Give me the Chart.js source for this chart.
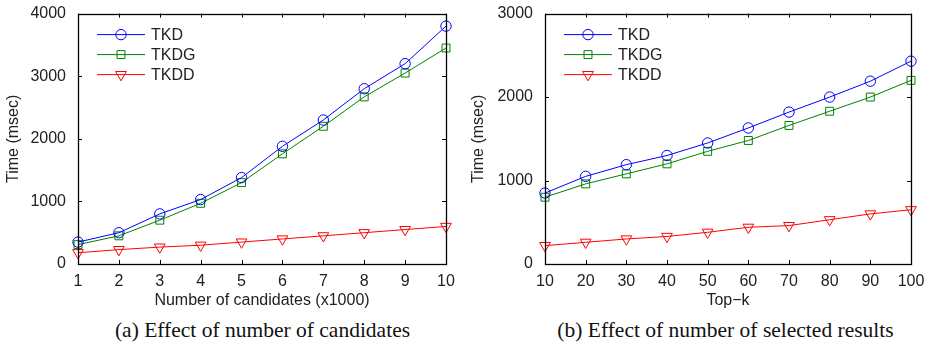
<!DOCTYPE html>
<html>
<head>
<meta charset="utf-8">
<script src="https://cdn.jsdelivr.net/npm/chart.js@4"></script>
<style>
  html, body { margin: 0; padding: 0; background: #fff; }
  #wrap { width: 930px; height: 344px; display: flex; }
  .panel { width: 465px; height: 344px; position: relative; }
  .panel canvas { position: absolute; left: 0; top: 0; }
  .caption {
    position: absolute; top: 318px; width: 465px; text-align: center;
    font-family: "Liberation Serif", "Times New Roman", serif; font-size: 21.5px; color: #111;
  }
</style>
</head>
<body>
<div id="wrap">
  <div class="panel">
    <canvas id="chartA" width="465" height="310"></canvas>
    <div class="caption" style="left:30px;">(a) Effect of number of candidates</div>
  </div>
  <div class="panel">
    <canvas id="chartB" width="465" height="310"></canvas>
    <div class="caption" style="left:28px;">(b) Effect of number of selected results</div>
  </div>
</div>
<script>
// chart (a): time vs number of candidates
const candidates = ['1', '2', '3', '4', '5', '6', '7', '8', '9', '10'];
const tkdA  = [350, 500, 800, 1030, 1380, 1880, 2300, 2800, 3200, 3800];
const tkdgA = [310, 450, 700, 970, 1300, 1760, 2200, 2670, 3050, 3450];
const tkddA = [180, 230, 270, 300, 350, 400, 450, 500, 550, 600];

// chart (b): time vs top-k
const topK  = ['10', '20', '30', '40', '50', '60', '70', '80', '90', '100'];
const tkdB  = [850, 1050, 1190, 1300, 1450, 1630, 1820, 2000, 2190, 2430];
const tkdgB = [800, 960, 1080, 1200, 1350, 1480, 1660, 1830, 2000, 2200];
const tkddB = [220, 260, 300, 330, 380, 440, 460, 530, 600, 650];

const seriesNames = ['TKD', 'TKDG', 'TKDD'];

const sansFont = '"Liberation Sans", Arial, Helvetica, sans-serif';

function makeDatasets(a, b, c) {
    return [
        { label: seriesNames[0], data: a, borderColor: '#0000ff', pointStyle: 'circle', pointRadius: 5.2, pointRotation: 0 },
        { label: seriesNames[1], data: b, borderColor: '#008000', pointStyle: 'rect', pointRadius: 5.6, pointRotation: 0 },
        { label: seriesNames[2], data: c, borderColor: '#ff0000', pointStyle: 'triangle', pointRadius: 6.2, pointRotation: 180 }
    ].map(d => Object.assign(d, {
        borderWidth: 1,
        pointBorderColor: d.borderColor,
        pointBackgroundColor: 'rgba(0,0,0,0)',
        pointBorderWidth: 1,
        tension: 0
    }));
}

// box, inward ticks on all four sides and the inside legend (MATLAB look)
const matlabFrame = {
    id: 'matlabFrame',
    afterDatasetsDraw(chart) {
        const ctx = chart.ctx;
        const a = chart.chartArea;
        const xs = chart.scales.x, ys = chart.scales.y;
        ctx.save();
        ctx.strokeStyle = '#000';
        ctx.lineWidth = 1;
        ctx.beginPath();
        xs.ticks.forEach((t, i) => {
            const px = Math.round(xs.getPixelForTick(i)) + 0.5;
            ctx.moveTo(px, a.bottom); ctx.lineTo(px, a.bottom - 4);
            ctx.moveTo(px, a.top); ctx.lineTo(px, a.top + 4);
        });
        ys.ticks.forEach((t, i) => {
            const py = Math.round(ys.getPixelForTick(i)) + 0.5;
            ctx.moveTo(a.left, py); ctx.lineTo(a.left + 4, py);
            ctx.moveTo(a.right, py); ctx.lineTo(a.right - 4, py);
        });
        ctx.stroke();
        ctx.lineWidth = 1.3;
        ctx.strokeRect(Math.round(a.left) + 0.5, Math.round(a.top) + 0.5,
            Math.round(a.right - a.left), Math.round(a.bottom - a.top));

        // legend
        const lx = a.left + 19, ly = a.top + 21;
        chart.data.datasets.forEach((ds, i) => {
            const y = ly + i * 20;
            ctx.strokeStyle = ds.borderColor;
            ctx.fillStyle = 'rgba(0,0,0,0)';
            ctx.lineWidth = 1;
            ctx.beginPath();
            ctx.moveTo(lx, y); ctx.lineTo(lx + 48, y);
            ctx.stroke();
            Chart.helpers.drawPoint(ctx, {
                pointStyle: ds.pointStyle, radius: ds.pointRadius,
                rotation: ds.pointRotation, borderWidth: 1
            }, lx + 24, y);
            ctx.fillStyle = '#222';
            ctx.font = '16px ' + sansFont;
            ctx.textBaseline = 'middle';
            ctx.textAlign = 'left';
            ctx.fillText(ds.label, lx + 54, y + 1);
        });
        ctx.restore();
    }
};

function makeChart(id, labels, datasets, yMax, xTitle, leftWidth) {
    return new Chart(document.getElementById(id), {
        type: 'line',
        data: { labels: labels, datasets: datasets },
        plugins: [matlabFrame],
        options: {
            responsive: false,
            animation: false,
            layout: { padding: { top: 12, right: 19, left: 4, bottom: 0 } },
            plugins: { legend: { display: false }, tooltip: { enabled: false } },
            scales: {
                x: {
                    offset: false,
                    grid: { display: false },
                    border: { display: false },
                    ticks: { color: '#222', font: { family: sansFont, size: 16 }, padding: 0, maxRotation: 0, autoSkip: false },
                    title: { display: true, text: xTitle, color: '#222', font: { family: sansFont, size: 16 }, padding: { top: 0, bottom: 0 } },
                    afterFit(scale) { scale.height = 46; }
                },
                y: {
                    min: 0, max: yMax,
                    grid: { display: false },
                    border: { display: false },
                    ticks: { stepSize: 1000, color: '#222', font: { family: sansFont, size: 16 }, padding: 4,
                             callback: v => String(v) },
                    title: { display: true, text: 'Time (msec)', color: '#222', font: { family: sansFont, size: 16 }, padding: { top: 0, bottom: 2 } },
                    afterFit(scale) { scale.width = leftWidth - 4; }
                }
            }
        }
    });
}

makeChart('chartA', candidates, makeDatasets(tkdA, tkdgA, tkddA), 4000, 'Number of candidates (x1000)', 78);
makeChart('chartB', topK, makeDatasets(tkdB, tkdgB, tkddB), 3000, 'Top\u2212k', 80);
</script>
</body>
</html>
